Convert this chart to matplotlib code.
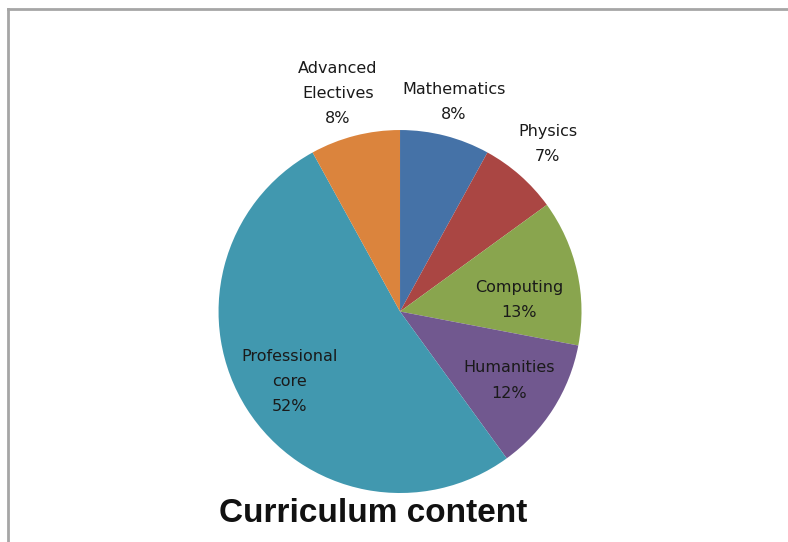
import numpy as np
import matplotlib
matplotlib.use("Agg")
import matplotlib.pyplot as plt
from matplotlib.lines import Line2D

# Доли разделов учебной программы (в процентах)
categories = ["Mathematics", "Physics", "Computing", "Humanities",
              "Professional\ncore", "Advanced\nElectives"]
shares = [8, 7, 13, 12, 52, 8]
colors = ["#4572A7", "#AA4643", "#89A54E", "#71588F", "#4198AF", "#DB843D"]

# Положение подписей: радиус и сдвиг угла относительно середины сектора
label_radius = [1.19, 1.23, 0.66, 0.71, 0.72, 1.25]
label_shift = [0, 0, -7, 0, 0, 1.5]

fig = plt.figure(figsize=(7.88, 5.42), dpi=100)
ax = fig.add_axes([0.2773, 0.0904, 0.4607, 0.6697])

wedges, _ = ax.pie(shares, colors=colors, startangle=90, counterclock=False,
                   radius=1.0, wedgeprops=dict(linewidth=0))
ax.set_xlim(-1, 1)
ax.set_ylim(-1, 1)
ax.set_aspect("equal")
ax.axis("off")

# Подписи секторов: название и процент
for w, name, val, r, dth in zip(wedges, categories, shares, label_radius, label_shift):
    ang = np.deg2rad((w.theta1 + w.theta2) / 2 + dth)
    x, y = r * np.cos(ang), r * np.sin(ang)
    ax.text(x, y, f"{name}\n{val}%", ha="center", va="center",
            fontsize=11.5, color="#1a1a1a", linespacing=1.85,
            family="DejaVu Sans")

fig.text(373 / 788, 1 - 513 / 542, "Curriculum content", ha="center", va="center",
         fontsize=24, fontweight="bold", family="Liberation Sans", color="#111111")

# Рамка области диаграммы (слева и сверху)
fx, fy = 8 / 788, 1 - 9 / 542
fig.add_artist(Line2D([fx, fx], [0, fy], transform=fig.transFigure,
                      color="#a6a6a6", lw=2))
fig.add_artist(Line2D([fx, 1], [fy, fy], transform=fig.transFigure,
                      color="#a6a6a6", lw=2))

fig.savefig("out.png", dpi=100)
